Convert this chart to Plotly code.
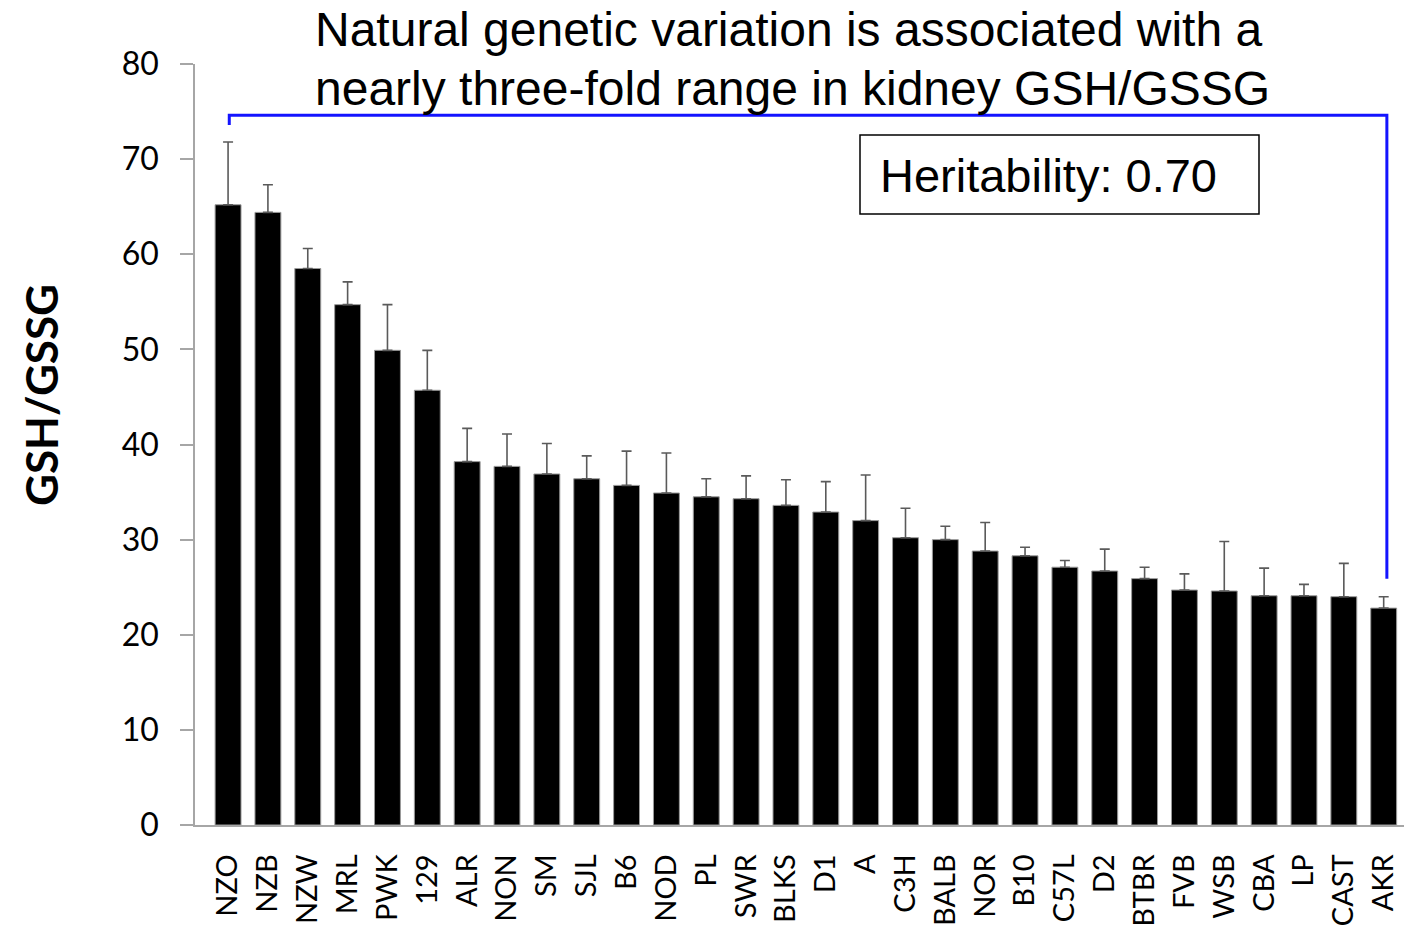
import plotly.graph_objects as go

# Mouse strains, ordered by kidney GSH/GSSG ratio
strains = ["NZO", "NZB", "NZW", "MRL", "PWK", "129", "ALR", "NON", "SM", "SJL",
           "B6", "NOD", "PL", "SWR", "BLKS", "D1", "A", "C3H", "BALB", "NOR",
           "B10", "C57L", "D2", "BTBR", "FVB", "WSB", "CBA", "LP", "CAST", "AKR"]
ratio_mean = [65.2, 64.4, 58.5, 54.7, 49.9, 45.7, 38.2, 37.7, 36.9, 36.4,
              35.7, 34.9, 34.5, 34.3, 33.6, 32.9, 32.0, 30.2, 30.0, 28.8,
              28.3, 27.1, 26.7, 25.9, 24.7, 24.6, 24.1, 24.1, 24.0, 22.8]
ratio_upper = [71.8, 67.3, 60.6, 57.1, 54.7, 49.9, 41.7, 41.1, 40.1, 38.8,
               39.3, 39.1, 36.4, 36.7, 36.3, 36.1, 36.8, 33.3, 31.4, 31.8,
               29.2, 27.8, 29.0, 27.1, 26.4, 29.8, 27.0, 25.3, 27.5, 24.0]
y_ticks = [0, 10, 20, 30, 40, 50, 60, 70, 80]

positions = list(range(len(strains)))
err_plus = [u - m for u, m in zip(ratio_upper, ratio_mean)]

# Plot area in pixels
W, H = 1404, 927
L, R, T, B = 195, 0, 64, 102
plot_w = W - L - R
plot_h = H - T - B


def py(pix):
    """paper y for a pixel row"""
    return (H - B - pix) / plot_h


def px(pix):
    """paper x for a pixel column"""
    return (pix - L) / plot_w


fig = go.Figure()

fig.add_trace(go.Bar(
    x=positions, y=ratio_mean, width=0.65,
    marker=dict(color="black", line=dict(color="#9a9a9a", width=1)),
    error_y=dict(type="data", symmetric=False, array=err_plus,
                 arrayminus=[0] * len(strains),
                 color="#5a5a5a", thickness=1.6, width=5),
    showlegend=False, hoverinfo="x+y",
))

# Bracket spanning the highest and lowest strain
first, last = positions[0], positions[-1]
fig.add_trace(go.Scatter(
    x=[first + 0.03, first + 0.03, last + 0.08, last + 0.08],
    y=[73.6, 74.6, 74.6, 25.9],
    mode="lines", line=dict(color="#1414ff", width=3),
    showlegend=False, hoverinfo="skip", cliponaxis=False,
))

fig.update_layout(
    width=W, height=H,
    margin=dict(l=L, r=R, t=T, b=B),
    paper_bgcolor="white", plot_bgcolor="white",
    font=dict(family="Lato, Liberation Sans, Arial", color="black"),
    bargap=0.35,
)

fig.update_xaxes(
    range=[-0.83, 29.51],
    tickmode="array", tickvals=positions, ticktext=strains,
    tickangle=-90, tickfont=dict(size=29, family="Lato", color="black"),
    showline=True, linecolor="#a6a6a6", linewidth=1.5,
    ticks="", showgrid=False, zeroline=False,
    ticklabelstandoff=16,
)
fig.update_yaxes(
    range=[0, 80],
    tickmode="array", tickvals=y_ticks,
    tickfont=dict(size=32, family="Lato", color="black"),
    showline=True, linecolor="#a6a6a6", linewidth=1.5,
    ticks="outside", ticklen=13, tickcolor="#a6a6a6", tickwidth=1.5,
    showgrid=False, zeroline=False,
    ticklabelstandoff=15,
)

# Axis title
fig.add_annotation(
    text="<b>GSH/GSSG</b>", xref="paper", yref="paper",
    x=px(41), y=py(395), textangle=-90, showarrow=False,
    font=dict(size=44, family="Lato", color="black"),
    xanchor="center", yanchor="middle",
)

# Headline, two lines
headline = ["Natural genetic variation is associated with a",
            "nearly three-fold range in kidney GSH/GSSG"]
for line, ypix in zip(headline, [30, 88]):
    fig.add_annotation(
        text=line, xref="paper", yref="paper", x=px(313), y=py(ypix),
        showarrow=False, xanchor="left", yanchor="middle",
        font=dict(size=48, family="Liberation Sans, Arial", color="black"),
    )

# Heritability box
fig.add_shape(
    type="rect", xref="paper", yref="paper",
    x0=px(860), x1=px(1259), y0=py(214), y1=py(135),
    line=dict(color="black", width=1.5), fillcolor="white", layer="above",
)
fig.add_annotation(
    text="Heritability: 0.70", xref="paper", yref="paper",
    x=px(878), y=py(175), xanchor="left", yanchor="middle",
    showarrow=False,
    font=dict(size=47, family="Liberation Sans, Arial", color="black"),
)

fig.write_html("out.html")
